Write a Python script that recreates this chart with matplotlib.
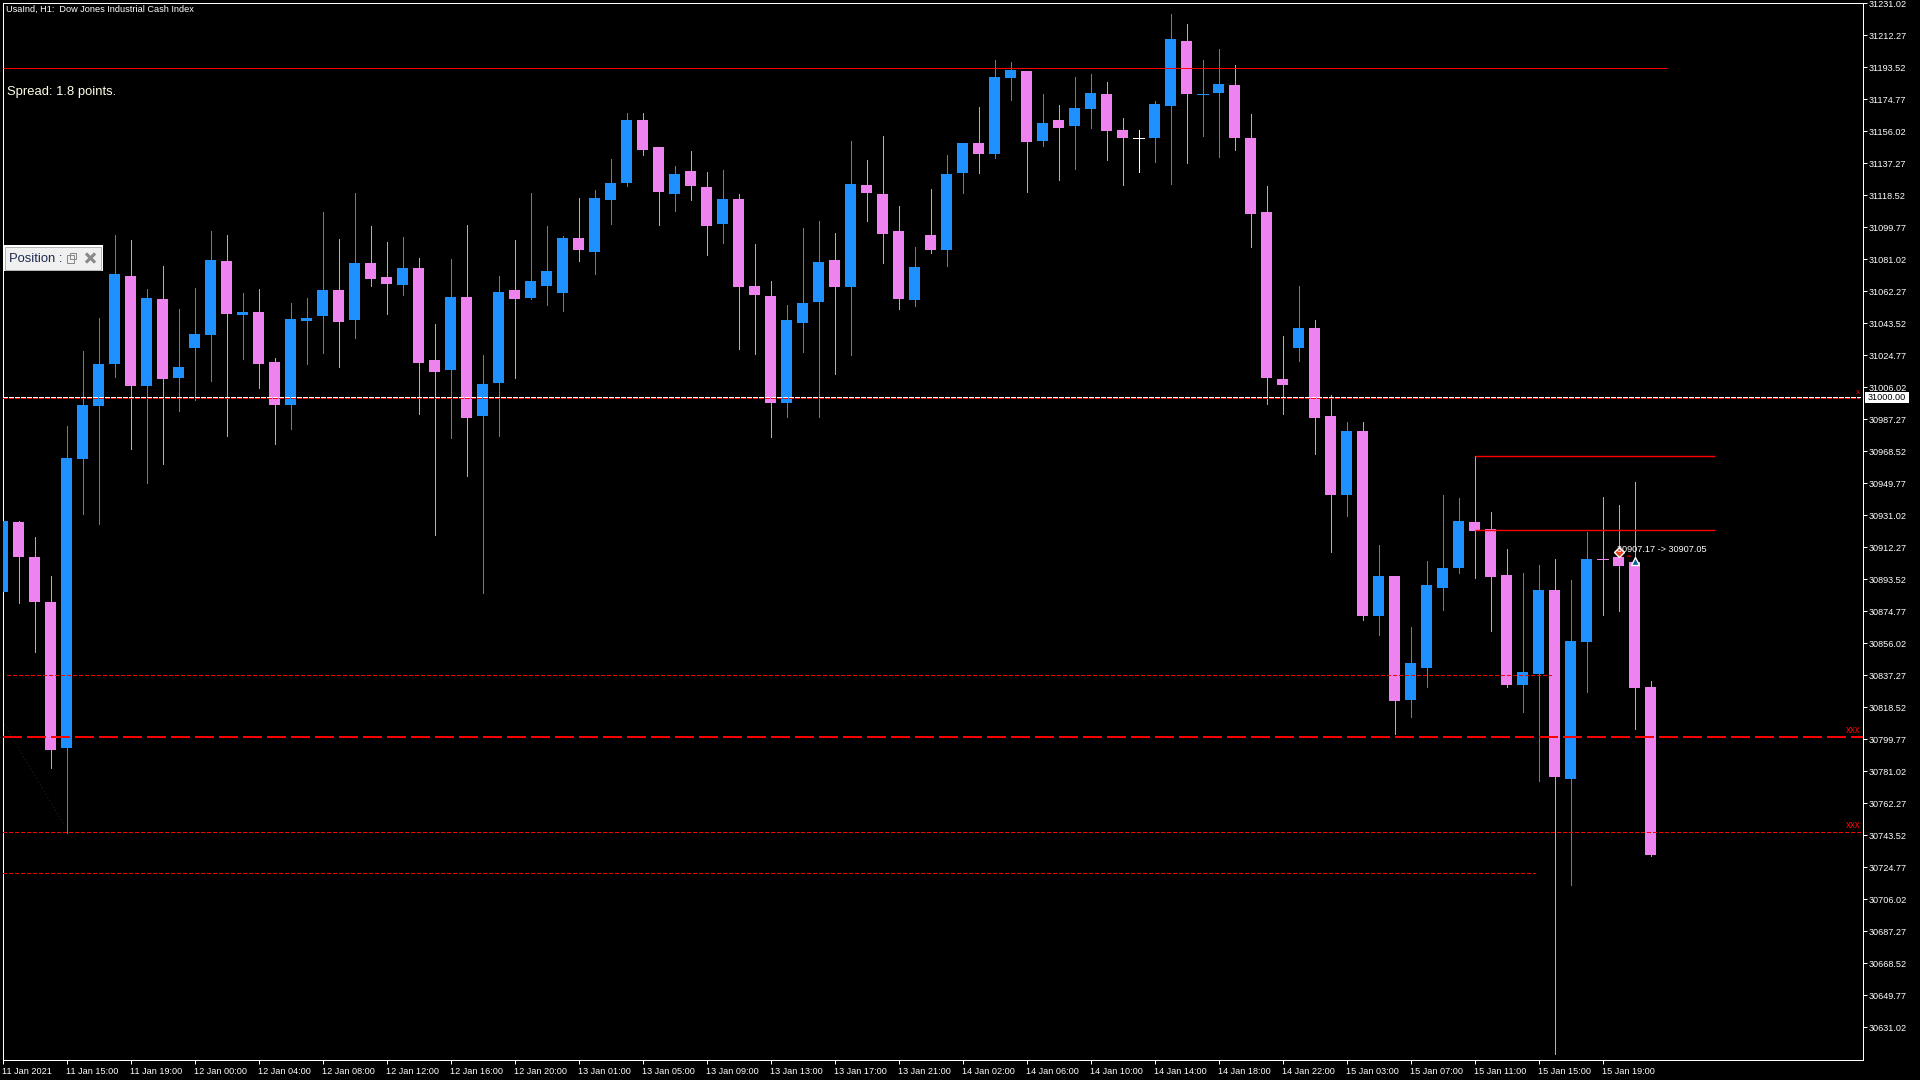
import matplotlib
matplotlib.use("Agg")
import matplotlib.pyplot as plt
from matplotlib.patches import Rectangle
import numpy as np

opens = [30886.0, 30926.9, 30906.8, 30880.1, 30794.6, 30963.9, 30994.9, 31019.5, 31071.2, 31006.6,
         31057.7, 31011.3, 31029.0, 31036.5, 31079.9, 31048.2, 31050.0, 31020.7, 30995.5, 31044.8,
         31047.6, 31062.9, 31045.4, 31078.6, 31070.6, 31065.7, 31075.8, 31022.0, 31016.1, 31058.9,
         30989.1, 31008.4, 31062.9, 31058.3, 31065.3, 31061.1, 31093.4, 31085.1, 31115.6, 31125.7,
         31162.6, 31146.6, 31119.2, 31132.5, 31123.2, 31101.6, 31116.2, 31065.3, 31059.5, 30996.7,
         31043.5, 31055.8, 31080.5, 31064.7, 31124.4, 31119.2, 31097.4, 31057.1, 31095.2, 31086.3,
         31131.5, 31149.1, 31142.6, 31187.2, 31191.2, 31150.3, 31162.6, 31159.0, 31168.8, 31177.7,
         31156.7, 31152.3, 31151.9, 31170.7, 31208.8, 31177.3, 31178.3, 31183.0, 31151.9, 31108.5,
         31010.7, 31029.0, 31040.7, 30989.1, 30942.9, 30980.4, 30871.8, 30895.3, 30822.6, 30841.4,
         30888.4, 30900.1, 30926.9, 30922.7, 30895.8, 30831.5, 30837.9, 30887.2, 30776.4, 30856.7,
         30905.9, 30906.5, 30903.9, 30830.3]
highs = [30927.5, 30927.5, 30918.0, 30895.3, 30983.2, 31027.0, 31046.6, 31095.2, 31092.2, 31063.5,
         31077.0, 31051.8, 31064.1, 31097.4, 31095.2, 31061.1, 31063.5, 31023.0, 31055.2, 31058.3,
         31108.5, 31092.8, 31119.8, 31100.4, 31091.0, 31094.0, 31081.7, 31042.9, 31081.1, 31101.0,
         31024.8, 31071.2, 31092.2, 31119.8, 31100.4, 31094.6, 31116.8, 31121.4, 31139.6, 31166.6,
         31166.6, 31146.6, 31135.5, 31144.4, 31131.9, 31133.1, 31119.2, 31089.7, 31068.2, 31054.0,
         31099.2, 31103.3, 31096.2, 31150.3, 31139.0, 31153.1, 31112.1, 31088.1, 31122.0, 31142.0,
         31149.1, 31170.0, 31197.7, 31196.5, 31191.2, 31177.7, 31171.3, 31187.6, 31189.4, 31184.8,
         31163.6, 31156.7, 31173.7, 31224.5, 31218.7, 31197.7, 31204.1, 31194.7, 31166.0, 31123.8,
         31035.9, 31065.3, 31045.4, 31001.4, 30985.6, 30985.6, 30913.4, 30895.3, 30865.4, 30904.1,
         30942.9, 30941.0, 30965.5, 30932.8, 30911.2, 30897.1, 30901.7, 30905.3, 30893.0, 30921.1,
         30941.6, 30937.0, 30950.3, 30833.9]
lows = [30886.0, 30879.5, 30850.9, 30783.1, 30745.0, 30931.6, 30925.7, 31011.9, 30969.7, 30949.9,
        30961.0, 30992.1, 30998.7, 31009.6, 30977.4, 31022.6, 31005.4, 30972.7, 30981.4, 31019.5,
        31026.0, 31017.7, 31034.9, 31065.3, 31048.8, 31059.9, 30990.3, 30919.5, 30976.1, 30954.0,
        30885.4, 30977.4, 31011.3, 31057.7, 31054.0, 31050.6, 31079.9, 31072.2, 31101.6, 31123.8,
        31142.0, 31101.0, 31109.1, 31115.6, 31083.5, 31090.4, 31028.4, 31025.4, 30976.8, 30988.5,
        31026.6, 30988.5, 31013.7, 31024.8, 31103.3, 31078.6, 31051.8, 31053.4, 31084.5, 31077.0,
        31119.8, 31131.5, 31140.2, 31174.3, 31120.2, 31147.2, 31127.3, 31133.7, 31157.7, 31139.0,
        31124.4, 31132.1, 31138.0, 31125.1, 31137.4, 31153.1, 31140.8, 31144.8, 31088.1, 30996.1,
        30990.3, 31021.3, 30966.9, 30909.4, 30930.5, 30869.6, 30860.7, 30802.8, 30812.7, 30830.3,
        30875.5, 30897.1, 30894.2, 30863.2, 30830.3, 30815.7, 30775.2, 30615.2, 30714.5, 30827.4,
        30872.4, 30874.9, 30805.7, 30731.2]
closes = [30927.5, 30906.8, 30880.1, 30793.6, 30964.5, 30995.5, 31019.5, 31072.2, 31006.6, 31058.3,
          31010.7, 31017.7, 31037.1, 31080.5, 31048.8, 31050.0, 31019.5, 30995.5, 31046.0, 31046.6,
          31062.9, 31044.1, 31078.6, 31069.4, 31066.3, 31075.8, 31020.1, 31014.9, 31058.9, 30987.9,
          31007.8, 31061.7, 31057.7, 31068.2, 31074.0, 31093.4, 31086.3, 31116.8, 31125.7, 31162.6,
          31144.8, 31120.2, 31130.9, 31123.8, 31100.4, 31116.2, 31064.7, 31059.9, 30996.7, 31045.4,
          31055.2, 31079.3, 31064.7, 31125.1, 31119.8, 31095.8, 31057.7, 31076.4, 31086.3, 31130.9,
          31149.1, 31142.6, 31187.6, 31191.8, 31149.7, 31160.8, 31157.7, 31169.4, 31178.3, 31156.1,
          31151.9, 31152.3, 31171.9, 31210.0, 31177.7, 31177.7, 31183.6, 31151.9, 31107.5, 31011.3,
          31007.2, 31040.7, 30987.9, 30942.9, 30980.4, 30871.8, 30895.3, 30822.2, 30844.4, 30890.0,
          30900.1, 30927.5, 30921.7, 30894.8, 30831.5, 30839.1, 30887.2, 30777.6, 30857.3, 30905.3,
          30905.5, 30901.3, 30829.7, 30731.8]

price_ticks = [31231.02, 31212.27, 31193.52, 31174.77, 31156.02, 31137.27, 31118.52, 31099.77, 31081.02,
               31062.27, 31043.52, 31024.77, 31006.02, 30987.27, 30968.52, 30949.77, 30931.02, 30912.27,
               30893.52, 30874.77, 30856.02, 30837.27, 30818.52, 30799.77, 30781.02, 30762.27, 30743.52,
               30724.77, 30706.02, 30687.27, 30668.52, 30649.77, 30631.02]
time_labels = ["11 Jan 2021", "11 Jan 15:00", "11 Jan 19:00", "12 Jan 00:00", "12 Jan 04:00", "12 Jan 08:00",
               "12 Jan 12:00", "12 Jan 16:00", "12 Jan 20:00", "13 Jan 01:00", "13 Jan 05:00", "13 Jan 09:00",
               "13 Jan 13:00", "13 Jan 17:00", "13 Jan 21:00", "14 Jan 02:00", "14 Jan 06:00", "14 Jan 10:00",
               "14 Jan 14:00", "14 Jan 18:00", "14 Jan 22:00", "15 Jan 03:00", "15 Jan 07:00", "15 Jan 11:00",
               "15 Jan 15:00", "15 Jan 19:00"]

# price levels drawn on the chart
resistance_level = 31192.9
round_level = 31000.0
dashed_level = 30800.9
dotted_level_a = 30837.2
dotted_level_b = 30745.2
dotted_level_c = 30721.2
box_high = 30965.5
box_low = 30922.1
trade_open = 30907.17
trade_close = 30907.05

BLUE = "#1E90FF"
PINK = "#EE82EE"
RED = "#FF0000"
PX = 0.72  # one pixel at dpi 100, in points

plt.rcParams["font.family"] = ["Liberation Sans", "DejaVu Sans"]
plt.rcParams["lines.scale_dashes"] = False

fig = plt.figure(figsize=(19.2, 10.8), dpi=100, facecolor="black")
ax = fig.add_axes([2.5 / 1920, 1 - 1059.5 / 1080, 1860 / 1920, 1057 / 1080], facecolor="black")
ax.set_xlim(0, 116.25)
ax.set_ylim(30612.17, 31231.43)

# candles
for i in range(len(opens)):
    o, h, l, c = opens[i], highs[i], lows[i], closes[i]
    color = BLUE if c > o else PINK if c < o else "white"
    ax.vlines(i, l, h, color=color, lw=PX, antialiased=False, zorder=2)
    if abs(c - o) < 1.2:
        ax.hlines(c, i - 0.34, i + 0.34, color=color, lw=PX, antialiased=False, zorder=3)
    else:
        ax.bar(i, abs(c - o), bottom=min(o, c), width=0.6875, color=color, linewidth=0,
               antialiased=False, zorder=3)

# levels
dots = (0, (2.2, 1.5))
long_dash = (0, (13, 4.3))
ax.hlines(resistance_level, 0, 104, color=RED, lw=PX, zorder=4)
ax.hlines(round_level - 0.3, 0, 116.1, color=RED, lw=1.4, linestyles=[(0, (2.9, 1.4))], zorder=4, antialiased=False)
ax.hlines(round_level + 0.3, 0, 116.1, color="white", lw=PX, linestyles=[(0, (2.9, 1.4))], zorder=5, antialiased=False)
ax.hlines(dotted_level_a, 0.25, 96.8, color=RED, lw=PX, linestyles=[dots], zorder=4, antialiased=False)
ax.hlines(dashed_level, 0, 116.25, color=RED, lw=1.1, linestyles=[long_dash], zorder=4, antialiased=False)
ax.hlines(dotted_level_b, 0, 116.1, color=RED, lw=PX, linestyles=[dots], zorder=4, antialiased=False)
ax.hlines(dotted_level_c, 0, 95.8, color=RED, lw=PX, linestyles=[dots], zorder=4, antialiased=False)
ax.hlines([box_high, box_low], 92, 107, color=RED, lw=1.0, zorder=4)

# faint trend line in the lower left corner, barely visible
ax.plot([0.1, 3.9], [30808.5, 30749.0], color="#1c1c1c", lw=PX, ls=":", zorder=1)

# last trade
ax.plot([101, 102], [trade_open, trade_close], color=RED, lw=PX, ls=(0, (3, 3)), zorder=5)
ax.plot(101, 30909.6, marker="D", ms=5.5, mfc="#E8401C", mec="white", mew=1, zorder=6)
ax.plot(102, 30904.0, marker="^", ms=6, mfc="#005F99", mec="white", mew=1, zorder=6)

for spine in ax.spines.values():
    spine.set_color("white")
    spine.set_linewidth(PX)

ax.yaxis.tick_right()
ax.set_yticks(price_ticks)
ax.set_yticklabels(["%.2f" % p for p in price_ticks])
ax.tick_params(axis="y", colors="white", labelsize=6.6, length=3, width=PX, pad=1.2)
ax.set_xticks(np.arange(len(time_labels)) * 4)
ax.set_xticklabels(time_labels, ha="left")
ax.tick_params(axis="x", colors="white", labelsize=6.6, length=3, width=PX, pad=2.5)

# everything below is placed in screen pixels
ov = fig.add_axes([0, 0, 1, 1], facecolor="none")
ov.set_xlim(0, 1920)
ov.set_ylim(1080, 0)
ov.axis("off")

ov.text(6.5, 9.6, "UsaInd, H1:  Dow Jones Industrial Cash Index", color="white", fontsize=6.6, va="center")
ov.text(7.3, 91.6, "Spread: 1.8 points.", color="#FFFFE8", fontsize=9.4, va="center")
ov.text(1617, 549.7, "30907.17 -> 30907.05", color="white", fontsize=6.6, va="center", zorder=7)

# round level price tag
ov.add_patch(Rectangle((1865, 392), 44, 11, facecolor="white", edgecolor="none"))
ov.text(1867.8, 397.8, "31000.00", color="black", fontsize=6.6, va="center")
ov.text(1858, 392.5, "x", color=RED, fontsize=6, ha="center", va="center")
ov.text(1853, 730, "xxx", color=RED, fontsize=7, ha="center", va="center")
ov.text(1853, 825, "xxx", color=RED, fontsize=7, ha="center", va="center")

# minimised "Position" panel
ov.add_patch(Rectangle((3, 245), 99.5, 26, facecolor="white", edgecolor="none", zorder=8))
ov.add_patch(Rectangle((4.5, 246.5), 96.5, 23, facecolor="#F0F0F0", edgecolor="#B4B4B4", lw=PX, zorder=8))
ov.text(9, 258.5, "Position :", color="#1F2A50", fontsize=9.4, va="center", zorder=9)
ov.add_patch(Rectangle((66.5, 255), 7, 8, facecolor="#F0F0F0", edgecolor="#8A8A8A", lw=PX, zorder=9))
ov.add_patch(Rectangle((70, 253), 6, 6, facecolor="none", edgecolor="#8A8A8A", lw=PX, zorder=9))
ov.plot([87, 94], [254.5, 261.5], color="#8A8A8A", lw=2.2, zorder=9)
ov.plot([87, 94], [261.5, 254.5], color="#8A8A8A", lw=2.2, zorder=9)

fig.savefig("out.png", dpi=100, facecolor="black")
